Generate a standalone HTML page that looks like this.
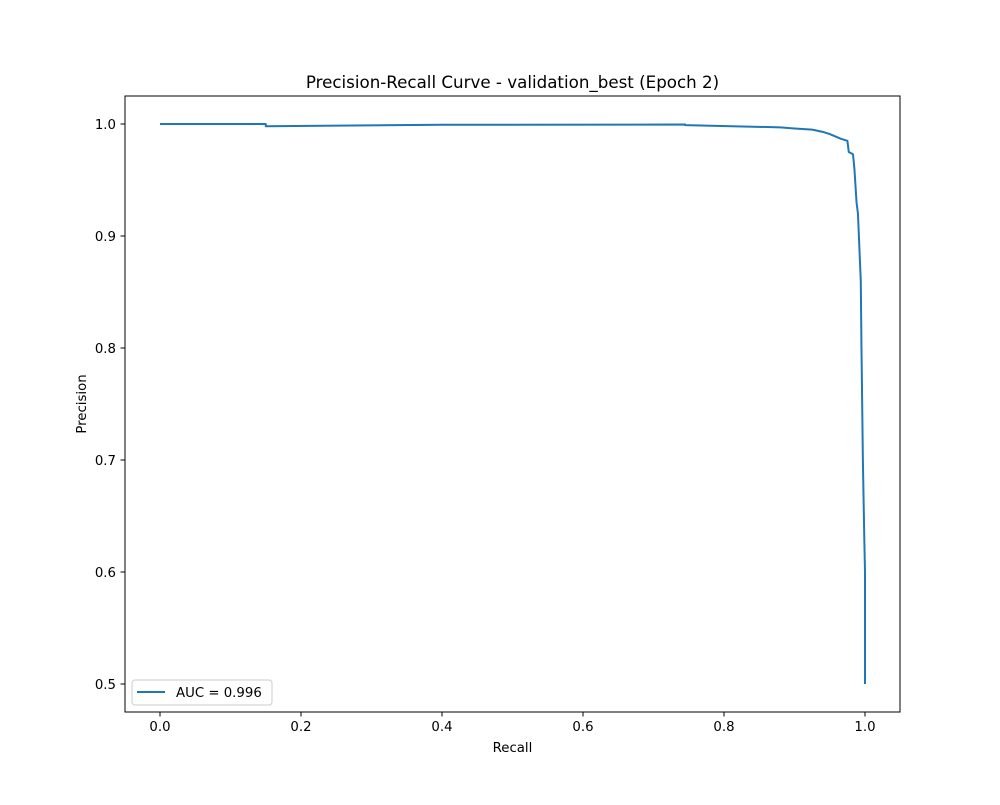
<!DOCTYPE html>
<html><head><meta charset="utf-8"><style>
body{margin:0;background:#fff}
svg{font-family:"DejaVu Sans","Liberation Sans",sans-serif}
</style></head><body>
<svg id="chart" width="1000" height="800" xmlns="http://www.w3.org/2000/svg">
<rect x="0" y="0" width="1000" height="800" fill="#fff"/>
<text x="512.5" y="88" text-anchor="middle" font-size="16.7">Precision-Recall Curve - validation_best (Epoch 2)</text>
<g id="xticks"></g>
<g id="yticks"></g>
<path id="curve" fill="none" stroke="#1f77b4" stroke-width="2" stroke-linejoin="round"/>
<rect x="125" y="96" width="775" height="616" fill="none" stroke="#000" stroke-width="1"/>
<text x="512.5" y="752" text-anchor="middle" font-size="13.3">Recall</text>
<text x="0" y="0" text-anchor="middle" font-size="13.3" transform="translate(86,404) rotate(-90)">Precision</text>
<g>
<rect x="132" y="680" width="140" height="25" rx="3" fill="#fff" stroke="#ccc"/>
<line x1="137" y1="692" x2="165" y2="692" stroke="#1f77b4" stroke-width="2"/>
<text x="176" y="697" font-size="13.3">AUC = 0.996</text>
</g>
</svg>
<script>
const recall=[0,0.15,0.15,0.4,0.745,0.745,0.88,0.9,0.925,0.94,0.95,0.965,0.975,0.977,0.983,0.985,0.988,0.99,0.992,0.994,0.995,0.997,0.999,1.0,1.0];
const precision=[1.0,1.0,0.998,0.9993,0.9995,0.999,0.997,0.996,0.995,0.993,0.991,0.987,0.985,0.975,0.973,0.96,0.93,0.92,0.89,0.86,0.80,0.70,0.63,0.6,0.5];
const xTickVals=[0,0.2,0.4,0.6,0.8,1.0];
const xTickLabels=["0.0","0.2","0.4","0.6","0.8","1.0"];
const yTickVals=[0.5,0.6,0.7,0.8,0.9,1.0];
const yTickLabels=["0.5","0.6","0.7","0.8","0.9","1.0"];
const NS="http://www.w3.org/2000/svg";
function sx(v){return 160+v*705;}
function sy(v){return 124+(1-v)*1120;}
const xg=document.getElementById('xticks');
xTickVals.forEach((v,i)=>{
  const l=document.createElementNS(NS,'line');
  l.setAttribute('x1',sx(v));l.setAttribute('x2',sx(v));l.setAttribute('y1',712);l.setAttribute('y2',716.5);l.setAttribute('stroke','#000');
  
  
  xg.appendChild(l);
  const t=document.createElementNS(NS,'text');
  t.setAttribute('x',sx(v));t.setAttribute('y',731);t.setAttribute('text-anchor','middle');t.setAttribute('font-size','13.3');
  t.textContent=xTickLabels[i];
  
  
  xg.appendChild(t);
});
const yg=document.getElementById('yticks');
yTickVals.forEach((v,i)=>{
  const l=document.createElementNS(NS,'line');
  l.setAttribute('x1',120.5);l.setAttribute('x2',125);l.setAttribute('y1',sy(v));l.setAttribute('y2',sy(v));l.setAttribute('stroke','#000');
  
  
  yg.appendChild(l);
  const t=document.createElementNS(NS,'text');
  t.setAttribute('x',116);t.setAttribute('y',sy(v)+5);t.setAttribute('text-anchor','end');t.setAttribute('font-size','13.3');
  t.textContent=yTickLabels[i];
  
  
  yg.appendChild(t);
});
let d='';
recall.forEach((r,i)=>{d+=(i?'L':'M')+sx(r).toFixed(2)+','+sy(precision[i]).toFixed(2);});
document.getElementById('curve').setAttribute('d',d);
</script>
</body></html>
